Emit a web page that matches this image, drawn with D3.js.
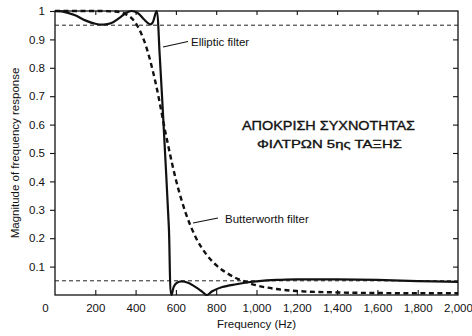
<!DOCTYPE html>
<html>
<head>
<meta charset="utf-8">
<script src="https://cdn.jsdelivr.net/npm/d3@7"></script>
<style>
  html, body { margin: 0; padding: 0; background: #fff; }
  svg { display: block; }
  text { font-family: "Liberation Sans", Arial, sans-serif; fill: #111; }
</style>
</head>
<body>
<svg id="chart" width="472" height="336"></svg>
<script>
// Magnitude responses of two 5th-order low-pass filters (Hz, |H|)
const ellipticFreq = [0, 40, 100, 150, 200, 240, 280, 320, 350, 380, 410, 440, 460, 475, 485, 495, 504,
  520, 535, 550, 565, 578, 590, 605, 629, 660, 700, 730, 753, 780, 830, 900, 950,
  1000, 1100, 1200, 1400, 1600, 1800, 2000];
const ellipticMag = [1.0, 0.998, 0.985, 0.967, 0.955, 0.952, 0.958, 0.976, 0.992, 1.0, 0.993, 0.972, 0.958, 0.953, 0.96, 0.982, 1.0,
  0.84, 0.65, 0.45, 0.24, 0.0, 0.03, 0.043, 0.048, 0.043, 0.027, 0.012, 0.0, 0.013, 0.028, 0.038, 0.044,
  0.048, 0.053, 0.055, 0.055, 0.053, 0.049, 0.046];

const butterFreq = [0, 100, 200, 300, 350, 400, 450, 500, 550, 600, 650, 700, 750, 800, 870, 950,
  1000, 1100, 1200, 1400, 1600, 1800, 2000];
const butterMag = [1.0, 1.0, 1.0, 0.998, 0.989, 0.958, 0.88, 0.745, 0.566, 0.406, 0.286, 0.201, 0.144, 0.105, 0.07, 0.045,
  0.034, 0.021, 0.014, 0.009, 0.007, 0.006, 0.006];

// Tolerance lines for passband / stopband
const toleranceLevels = [0.95, 0.05];

const xTicks = [0, 200, 400, 600, 800, 1000, 1200, 1400, 1600, 1800, 2000];
const yTicks = [0.1, 0.2, 0.3, 0.4, 0.5, 0.6, 0.7, 0.8, 0.9, 1];

const titleLines = ["ΑΠΟΚΡΙΣΗ ΣΥΧΝΟΤΗΤΑΣ", "ΦΙΛΤΡΩΝ 5ης ΤΑΞΗΣ"];

const svg = d3.select("#chart");
const m = { left: 55, right: 14, top: 11, bottom: 41 };
const W = 472, H = 336;

const x = d3.scaleLinear().domain([0, 2000]).range([m.left, W - m.right]);
const y = d3.scaleLinear().domain([0, 1]).range([H - m.bottom, m.top]);

const fmtX = d => d3.format(",")(d);
const fmtY = d => d === 1 ? "1" : d3.format(".1f")(d);

// Frame
svg.append("rect")
  .attr("x", x(0)).attr("y", y(1))
  .attr("width", x(2000) - x(0)).attr("height", y(0) - y(1))
  .attr("fill", "none").attr("stroke", "#111").attr("stroke-width", 1.3);

// Bottom axis: inward ticks, labels below
const xAxis = svg.append("g").attr("transform", `translate(0,${y(0)})`)
  .call(d3.axisBottom(x).tickValues(xTicks).tickFormat(fmtX).tickSize(-5).tickPadding(9));
xAxis.select(".domain").remove();
xAxis.selectAll("text").attr("font-size", 11.5)
  .attr("dx", d => d === 0 ? -10 : 0);
xAxis.selectAll(".tick").filter(d => d === 0 || d === 2000).select("line").remove();

// Top axis: inward ticks only
const xTop = svg.append("g").attr("transform", `translate(0,${y(1)})`)
  .call(d3.axisTop(x).tickValues(xTicks.slice(1, -1)).tickFormat("").tickSize(-4));
xTop.select(".domain").remove();

// Left axis: outward ticks with labels
const yAxis = svg.append("g").attr("transform", `translate(${x(0)},0)`)
  .call(d3.axisLeft(y).tickValues(yTicks).tickFormat(fmtY).tickSize(5).tickPadding(5));
yAxis.select(".domain").remove();
yAxis.selectAll("text").attr("font-size", 11.5);

// Right axis: inward ticks
const yRight = svg.append("g").attr("transform", `translate(${x(2000)},0)`)
  .call(d3.axisRight(y).tickValues(yTicks.slice(0, -1)).tickFormat("").tickSize(-5));
yRight.select(".domain").remove();

svg.selectAll(".tick line").attr("stroke", "#111").attr("stroke-width", 1.1);

// Tolerance lines
svg.selectAll("line.tol").data(toleranceLevels).enter().append("line")
  .attr("class", "tol")
  .attr("x1", x(0)).attr("x2", x(2000))
  .attr("y1", d => y(d)).attr("y2", d => y(d))
  .attr("stroke", "#222").attr("stroke-width", 1).attr("stroke-dasharray", "4,3");

const line = d3.line().x(d => x(d[0])).y(d => y(d[1])).curve(d3.curveMonotoneX);

// Butterworth (dashed)
svg.append("path")
  .datum(d3.zip(butterFreq, butterMag))
  .attr("d", line)
  .attr("fill", "none").attr("stroke", "#111")
  .attr("stroke-width", 2.4).attr("stroke-dasharray", "5,3.5");

// Elliptic (solid)
svg.append("path")
  .datum(d3.zip(ellipticFreq, ellipticMag))
  .attr("d", d3.line().x(d => x(d[0])).y(d => y(d[1])).curve(d3.curveCatmullRom.alpha(0.5)))
  .attr("fill", "none").attr("stroke", "#111")
  .attr("stroke-width", 2.2).attr("stroke-linejoin", "round");

// Curve annotations
svg.append("line").attr("x1", 163).attr("y1", 47).attr("x2", 188).attr("y2", 41.5)
  .attr("stroke", "#111").attr("stroke-width", 1.1);
svg.append("text").attr("x", 191).attr("y", 46).attr("font-size", 11.5).text("Elliptic filter");

svg.append("line").attr("x1", 193).attr("y1", 223).attr("x2", 218).attr("y2", 218)
  .attr("stroke", "#111").attr("stroke-width", 1.1);
svg.append("text").attr("x", 225).attr("y", 223).attr("font-size", 11.5).text("Butterworth filter");

// Axis titles
svg.append("text").attr("x", x(1000)).attr("y", 328).attr("text-anchor", "middle")
  .attr("font-size", 11.5).text("Frequency (Hz)");
svg.append("text")
  .attr("transform", `translate(19,${y(0.5)}) rotate(-90)`)
  .attr("text-anchor", "middle").attr("font-size", 11.5)
  .text("Magnitude of frequency response");

// Hand-lettered Greek caption
svg.append("text").attr("x", 242).attr("y", 129.5).attr("font-size", 12.5)
  .attr("font-family", "DejaVu Sans, sans-serif")
  .attr("stroke", "#111").attr("stroke-width", 0.35)
  .attr("textLength", 173).attr("lengthAdjust", "spacingAndGlyphs")
  .text(titleLines[0]);
svg.append("text").attr("x", 257).attr("y", 147.5).attr("font-size", 11.5)
  .attr("font-family", "DejaVu Sans, sans-serif")
  .attr("stroke", "#111").attr("stroke-width", 0.35)
  .attr("textLength", 145).attr("lengthAdjust", "spacingAndGlyphs")
  .text(titleLines[1]);
</script>
</body>
</html>
